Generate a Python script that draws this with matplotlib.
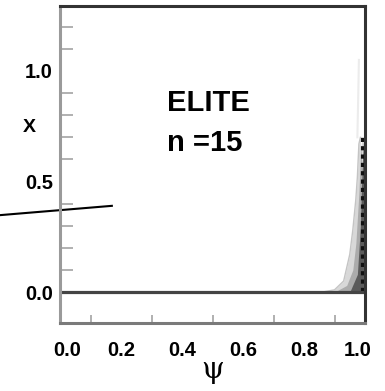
import matplotlib
matplotlib.use("Agg")
import matplotlib.pyplot as plt
from matplotlib.transforms import ScaledTranslation
from matplotlib import font_manager

names = {f.name for f in font_manager.fontManager.ttflist}
sans = ['Liberation Sans Narrow', 'Liberation Sans'] if 'Liberation Sans Narrow' in names else ['Liberation Sans']

# Elite population profiles X(psi) at generation n = 15
psi_outer = [0.86, 0.90, 0.93, 0.95, 0.96, 0.97, 0.975, 0.98, 0.985]
x_outer = [0.0, 0.01, 0.05, 0.17, 0.28, 0.42, 0.52, 0.67, 0.70]
psi_faint = [0.975, 0.978, 0.98]
x_faint = [0.70, 0.90, 1.05]
psi_mid = [0.90, 0.94, 0.96, 0.97, 0.98, 0.985, 0.99]
x_mid = [0.0, 0.03, 0.10, 0.22, 0.45, 0.62, 0.70]
psi_inner = [0.95, 0.975, 0.985, 0.99, 0.995]
x_inner = [0.0, 0.08, 0.30, 0.55, 0.70]
psi_edge = [0.995, 0.995]
x_edge = [0.0, 0.70]

xticks = [0.0, 0.2, 0.4, 0.6, 0.8, 1.0]
yticks = [0.0, 0.5, 1.0]

fig = plt.figure(figsize=(3.85, 3.91), dpi=100)
ax = fig.add_axes([60/385, 1 - 323/391, 305/385, 317/391])
ax.set_xlim(0, 1.0)
ax.set_ylim(-0.14, 1.294)

ax.fill_between(psi_outer, 0, x_outer, color='#d8d8d8', lw=0)
ax.plot(psi_outer, x_outer, color='#c4c4c4', lw=1)
ax.plot(psi_faint, x_faint, color='#ececec', lw=1.5)
ax.fill_between(psi_mid, 0, x_mid, color='#ababab', lw=0)
ax.fill_between(psi_inner, 0, x_inner, color='#5a5a5a', lw=0)
ax.plot(psi_edge, x_edge, color='#111111', lw=3, ls=(0, (1, 1)))

ax.axhline(0.0, color='#444444', lw=2.3)

for side, col in [('left', '#9a9a9a'), ('bottom', '#7a7a7a'), ('top', '#333333'), ('right', '#333333')]:
    ax.spines[side].set_color(col)
    ax.spines[side].set_linewidth(2.2)

ax.set_xticks(xticks)
ax.set_yticks(yticks)
ax.set_xticks([0.1 * i for i in range(1, 10)], minor=True)
ax.set_yticks([0.1 * i for i in range(1, 13)], minor=True)
ax.tick_params(axis='both', which='major', length=0, labelsize=14.5, colors='black')
ax.tick_params(axis='x', which='major', pad=13)
ax.tick_params(axis='y', which='major', pad=5)
ax.tick_params(axis='y', which='minor', direction='in', length=9, width=1.3, color='#aaaaaa')
ax.tick_params(axis='x', which='minor', direction='in', length=6, width=1.3, color='#aaaaaa')
ax.set_xticklabels([f"{v:.1f}" for v in xticks], fontfamily=sans, fontweight='bold')
ax.set_yticklabels([f"{v:.1f}" for v in yticks], fontfamily=sans, fontweight='bold')
labels = ax.get_xticklabels()
labels[0].set_transform(labels[0].get_transform() + ScaledTranslation(7/100, 0, fig.dpi_scale_trans))
labels[-1].set_transform(labels[-1].get_transform() + ScaledTranslation(-7/100, 0, fig.dpi_scale_trans))

ax.set_xlabel('ψ', fontsize=21, family=['DejaVu Serif'], labelpad=-3)
ax.set_ylabel('X', fontsize=14, fontweight='bold', family=sans, rotation=0, va='center', ha='center')
ax.yaxis.set_label_coords(-0.10, 0.618)

ax.text(0.35, 0.82, 'ELITE', fontsize=21, fontweight='bold', family=sans)
ax.text(0.35, 0.64, 'n =15', fontsize=21, fontweight='bold', family=sans)

ax.plot([-0.196, 0.17], [0.348, 0.39], color='black', lw=1.5, clip_on=False)

fig.savefig('out.png', dpi=100)
